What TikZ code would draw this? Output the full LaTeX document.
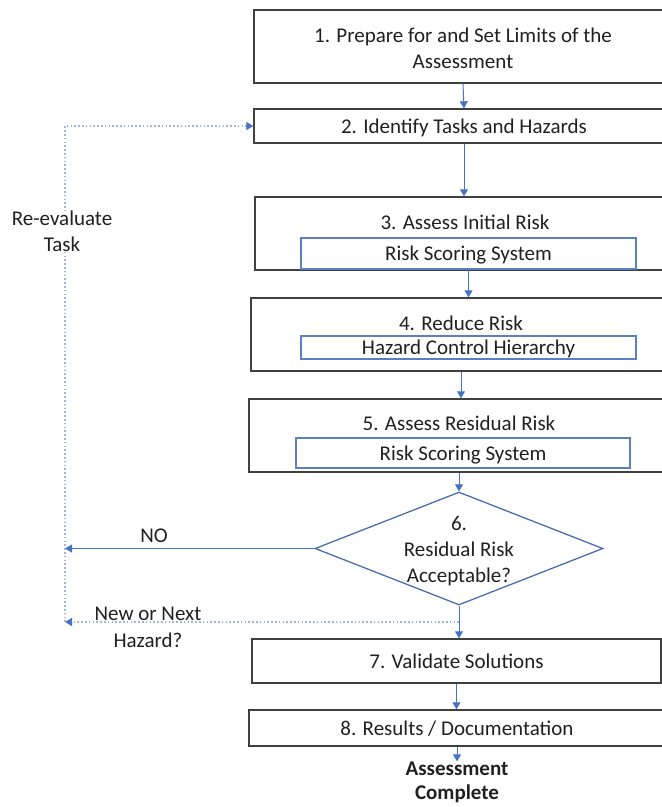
\documentclass[tikz,border=0pt]{standalone}
\usepackage{fontspec}
\setmainfont{Carlito}
\usetikzlibrary{shapes.geometric,arrows.meta}
\definecolor{arrblue}{HTML}{4472C4}
\definecolor{dotblue}{HTML}{9DB5E0}
\definecolor{boxgray}{HTML}{404040}
\definecolor{innerblue}{HTML}{5B7FC4}
\definecolor{dia}{HTML}{4A6FB0}
\definecolor{txt}{HTML}{202020}
\begin{document}
\begin{tikzpicture}[x=1pt,y=-1pt,
 font=\fontsize{21}{25.6}\selectfont, text=txt,
 stepbox/.style={draw=boxgray,line width=1.4pt,rectangle,inner sep=0pt,align=center},
 innerbox/.style={draw=innerblue,line width=1.3pt,rectangle,inner sep=0pt},
 lbl/.style={inner sep=0pt,align=center},
 tx/.style={text height=16pt,text depth=2pt},
 arr/.style={draw=arrblue,line width=1pt,-{Triangle[length=7pt,width=8pt]}},
 dotarr/.style={draw=dotblue,line width=1.6pt,dash pattern=on 1.6pt off 2.2pt,-{Triangle[length=7pt,width=8pt,color=arrblue]}}]
\useasboundingbox (0,0) rectangle (662,807);
\clip (0,0) rectangle (662,807);
% step boxes
\node[stepbox,minimum width=418pt,minimum height=73pt] (b1) at (463,46.5) {};
\node[lbl] (t1) at (463,48) {1. Prepare for and Set Limits of the\\Assessment};
\node[stepbox,tx,minimum width=420pt,minimum height=34pt] (b2) at (464,126) {2. Identify Tasks and Hazards};
\node[stepbox,minimum width=420pt,minimum height=73pt] (b3) at (465,233.5) {};
\node[lbl,tx] (t3) at (465,222) {3. Assess Initial Risk};
\node[innerbox,tx,minimum width=335pt,minimum height=31pt] (i3) at (468.5,253.5) {Risk Scoring System};
\node[stepbox,minimum width=420pt,minimum height=73pt] (b4) at (461,334.5) {};
\node[lbl,tx] (t4) at (461,323) {4. Reduce Risk};
\node[innerbox,tx,minimum width=335pt,minimum height=23pt] (i4) at (468.5,347.5) {Hazard Control Hierarchy};
\node[stepbox,minimum width=420pt,minimum height=73pt] (b5) at (459,435.5) {};
\node[lbl,tx] (t5) at (459,423) {5. Assess Residual Risk};
\node[innerbox,tx,minimum width=334pt,minimum height=30pt] (i5) at (463,453) {Risk Scoring System};
% decision
\node[draw=dia,line width=1.3pt,diamond,aspect=2.55,minimum width=288pt,minimum height=113pt,inner sep=0pt] (d) at (459,548.5) {};
\node[lbl] (dt) at (459,551) {6.\\Residual Risk\\Acceptable?};
\node[stepbox,tx,minimum width=409pt,minimum height=44pt] (b7) at (456.5,661) {7. Validate Solutions};
\node[stepbox,tx,minimum width=416pt,minimum height=36pt] (b8) at (457,728) {8. Results / Documentation};
\node[lbl,font=\fontsize{21}{24}\selectfont\bfseries] (done) at (457,782) {Assessment\\Complete};
% main arrows
\draw[arr] (b1.south) -- (b2.north);
\draw[arr] (b2.south) -- (b2.south |- b3.north);
\draw[arr] (i3.south) -- (i3.south |- b4.north);
\draw[arr] (b4.south) -- (b4.south |- b5.north);
\draw[arr] (b5.south) -- (d.north);
\draw[arr] (d.south) -- (d.south |- b7.north);
\draw[arr] (b7.south) -- (b7.south |- b8.north);
\draw[arr] (b8.south) -- (b8.south |- done.north);
% loops
\coordinate (noend) at (65,548.5);
\draw[arr] (d.west) -- (noend);
\node[lbl,tx] (nol) at (154,535) {NO};
\coordinate (jn) at (459,622);
\coordinate (lb) at (65,622);
\coordinate (lt) at (65,126);
\draw[dotarr] (jn) -- (lb);
\draw[dotarr] (lb) -- (lt) -- (b2.west);
\node[lbl,fill=white] (rel) at (62,231) {Re-evaluate\\Task};
\node[lbl] (nnl) at (148,627.5) {New or Next\\[1.5pt]Hazard?};
\end{tikzpicture}
\end{document}
